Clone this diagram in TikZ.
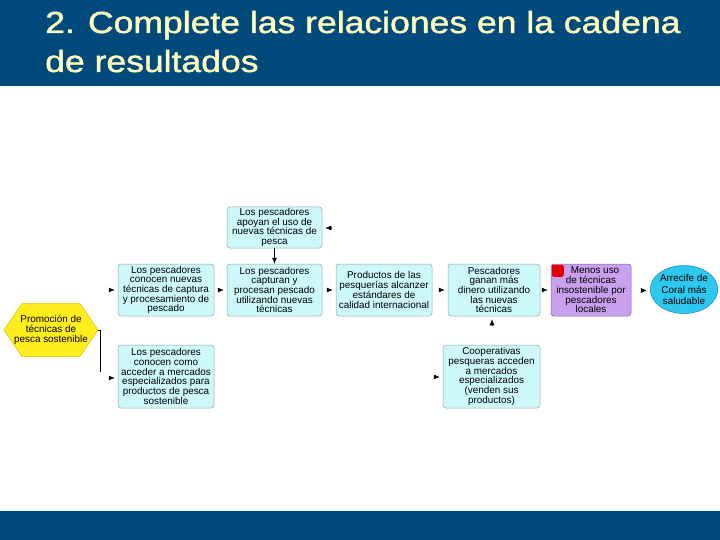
\documentclass[tikz,border=0pt]{standalone}
\usepackage{fontspec}
\setmainfont{Liberation Sans}
\newfontfamily\titlefont[FakeBold=1.2]{Liberation Sans}
\usetikzlibrary{arrows.meta,calc,shapes.geometric}
\definecolor{banner}{RGB}{3,74,124}
\definecolor{titleyel}{RGB}{255,255,190}
\definecolor{boxfill}{RGB}{205,248,250}
\definecolor{boxline}{RGB}{150,165,170}
\definecolor{purplefill}{RGB}{200,160,238}
\definecolor{purpleline}{RGB}{130,100,160}
\definecolor{ellfill}{RGB}{45,200,238}
\definecolor{ellline}{RGB}{30,130,190}
\definecolor{hexfill}{RGB}{255,238,30}
\definecolor{hexline}{RGB}{220,190,0}
\tikzset{
  boxfont/.style={font=\fontsize{9.9}{9.7}\selectfont},
  resbox/.style={draw=boxline, line width=0.5pt, fill=boxfill, rounded corners=3pt,
    align=center, inner sep=1pt, boxfont},
  stub/.style={-{Latex[length=6pt,width=5pt]}, line width=0.6pt, shorten >=3pt},
  titletext/.style={anchor=base west, text=titleyel, inner sep=0pt, xscale=1.165, transform shape, font=\titlefont\fontsize{30.5}{38}\selectfont},
}
\begin{document}
\begin{tikzpicture}[x=1pt,y=-1pt]
\useasboundingbox (0,0) rectangle (720,540);
% banners
\fill[banner] (0,0) rectangle (720,86);
\fill[banner] (0,511) rectangle (720,540);
\node[titletext] (title1) at (45,33) {2. Complete las relaciones en la cadena};
\node[titletext] (title2) at (45,72) {de resultados};
% hexagon
\coordinate (hex) at (51,330);
\coordinate (hexE) at (98,330);
\fill[hexfill, draw=hexline, line width=0.5pt] (4,330) -- (22,303.5) -- (80,303.5) -- (hexE) -- (80,356.5) -- (22,356.5) -- cycle;
\node[align=center, boxfont, inner sep=0pt] (hextext) at (hex) {Promoción de\\técnicas de\\pesca sostenible};
% boxes
\node[resbox, minimum width=96pt, minimum height=52pt] (A) at (166,290)
  {Los pescadores\\conocen nuevas\\técnicas de captura\\y procesamiento de\\pescado};
\node[resbox, minimum width=95pt, minimum height=41pt] (B) at (274.5,227.5)
  {Los pescadores\\apoyan el uso de\\nuevas técnicas de\\pesca};
\node[resbox, minimum width=95pt, minimum height=52pt] (C) at (274.5,290)
  {Los pescadores\\capturan y\\procesan pescado\\utilizando nuevas\\técnicas};
\node[resbox, minimum width=96pt, minimum height=52pt] (D) at (384,290)
  {Productos de las\\pesquerías alcanzer\\estándares de\\calidad internacional};
\node[resbox, minimum width=92pt, minimum height=52pt] (E) at (494,290)
  {Pescadores\\ganan más\\dinero utilizando\\las nuevas\\técnicas};
\node[resbox, draw=purpleline, fill=purplefill, minimum width=80pt, minimum height=52pt] (F) at (591,290)
  {\hspace*{8pt}Menos uso\\de técnicas\\insostenible por\\pescadores\\locales};
\fill[red!90!black, rounded corners=2pt] ($(F.north west)+(1,1)$) rectangle ($(F.north west)+(13,13)$);
\node[ellipse, draw=ellline, fill=ellfill, line width=0.5pt, minimum width=66pt, minimum height=48pt, inner sep=0pt, align=center, font=\fontsize{9.9}{11.5}\selectfont] (G) at (684,289.5)
  {Arrecife de\\Coral más\\saludable};
\node[resbox, minimum width=96pt, minimum height=63pt] (H) at (166,376.5)
  {Los pescadores\\conocen como\\acceder a mercados\\especializados para\\productos de pesca\\sostenible};
\node[resbox, minimum width=97pt, minimum height=63pt] (I) at (491.5,376.5)
  {Cooperativas\\pesqueras acceden\\a mercados\\especializados\\(venden sus\\productos)};
% connector stubs
\coordinate (sA) at ($(A.west)+(-9,0)$);
\coordinate (sH) at ($(H.west)+(-9,1.5)$);
\coordinate (sC) at ($(C.west)+(-9,0)$);
\coordinate (sD) at ($(D.west)+(-9,0)$);
\coordinate (sE) at ($(E.west)+(-9,0)$);
\coordinate (sF) at ($(F.west)+(-9,0)$);
\coordinate (sG) at ($(G.west)+(-9,1)$);
\coordinate (sI) at ($(I.west)+(-9,0.5)$);
\coordinate (sB) at ($(B.east)+(9,0.5)$);
\coordinate (sEu) at ($(E.south)+(-2,9)$);
\coordinate (hexdown) at (100,372);
\draw[line width=0.6pt] (hexE) -- ++(2,0) -- (hexdown);
\draw[stub] (sA) -- (sA -| A.west);
\draw[stub] (sH) -- (sH -| H.west);
\draw[stub] (sC) -- (sC -| C.west);
\draw[stub] (sD) -- (sD -| D.west);
\draw[stub] (sE) -- (sE -| E.west);
\draw[stub] (sF) -- (sF -| F.west);
\draw[stub] (sG) -- (sG -| G.west);
\draw[stub] (sI) -- (sI -| I.west);
\draw[stub] (sB) -- (sB -| B.east);
\draw[stub] (sEu) -- (sEu |- E.south);
\draw[-{Latex[length=6pt,width=5pt]}, line width=0.6pt] (B.south) -- (C.north);
\end{tikzpicture}
\end{document}
